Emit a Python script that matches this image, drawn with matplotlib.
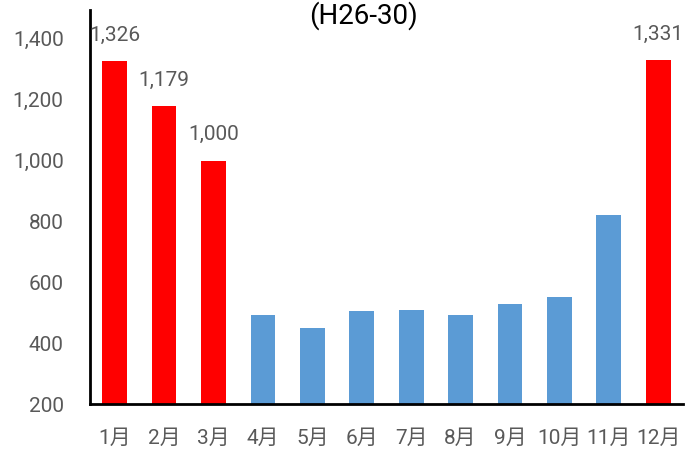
import numpy as np
from matplotlib import pyplot as plt

plt.rcParams['font.family'] = ['Roboto', 'Noto Sans CJK JP', 'DejaVu Sans']

months = ['1月', '2月', '3月', '4月', '5月', '6月', '7月', '8月', '9月', '10月', '11月', '12月']
values = [1326, 1179, 1000, 493, 450, 506, 509, 493, 529, 552, 821, 1331]
winter = [True, True, True, False, False, False, False, False, False, False, False, True]
yticks = [200, 400, 600, 800, 1000, 1200, 1400]

red = '#ff0000'
blue = '#5b9bd5'
grey = '#595959'

fig = plt.figure(figsize=(6.99, 4.5), dpi=100)
ax = fig.add_axes([0.1288, 0.1022, 0.977 - 0.1288, 0.978 - 0.1022])

x = np.arange(len(months))
colors = [red if w else blue for w in winter]
ax.bar(x, values, width=0.5, color=colors, bottom=0)

# labels only on the winter months
for xi, v, w in zip(x, values, winter):
    if w:
        ax.annotate(f'{v:,}', (xi, v), xytext=(0, 18.5), textcoords='offset points',
                    ha='center', va='center', fontsize=15, color=grey)

ax.set_xlim(-0.5, len(months) - 0.5)
ax.set_ylim(200, 1495)
ax.set_yticks(yticks)
ax.set_yticklabels([f'{t:,}' for t in yticks])
ax.set_xticks(x)
ax.set_xticklabels(months)
ax.tick_params(axis='both', length=0, labelsize=15, colors=grey)
ax.tick_params(axis='y', pad=19)
ax.tick_params(axis='x', pad=18)

for s in ['top', 'right']:
    ax.spines[s].set_visible(False)
for s in ['left', 'bottom']:
    ax.spines[s].set_linewidth(2)
    ax.spines[s].set_color('black')

fig.text(0.52, 0.965, '(H26-30)', ha='center', va='center', fontsize=20, color='black')

fig.savefig('out.png', dpi=100)
